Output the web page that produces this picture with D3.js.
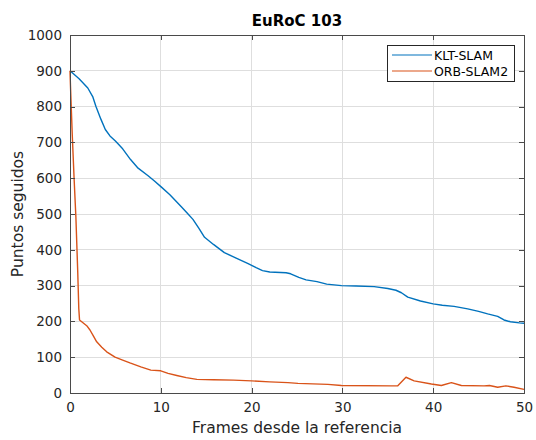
<!DOCTYPE html>
<html>
<head>
<meta charset="utf-8">
<script src="https://cdn.jsdelivr.net/npm/d3@7"></script>
<style>
  html, body { margin: 0; padding: 0; background: #fff; }
  svg { display: block; font-family: "DejaVu Sans", sans-serif; }
</style>
</head>
<body>
<svg id="chart" width="536" height="440"></svg>
<script>
// Tracked points per frame since the reference keyframe (EuRoC 103)
const seriesNames = ["KLT-SLAM", "ORB-SLAM2"];
const seriesColors = ["#0072BD", "#D95319"];

const kltFrames = [0, 1, 1.96, 2.5, 2.85, 3.4, 3.89, 4.4, 5, 5.8, 6.67, 7.5, 8.6, 9.3, 10.07, 11, 12.26, 13, 13.54, 14.2, 14.82, 15.8, 17, 18.3, 19.56, 20.5, 21.2, 22, 23.8, 24.3, 25.2, 26, 27.2, 28.27, 29.9, 31.5, 33.5, 35, 35.9, 36.5, 37.2, 38.6, 40, 41, 42.3, 43.8, 45, 46, 47.1, 47.8, 48.5, 49.5, 50];
const kltPoints = [900, 878, 852, 828, 801, 765, 736, 718, 704, 682, 652, 628, 607, 592, 575, 554, 520, 500, 485, 460, 435, 415, 392, 377, 362, 350, 342, 338, 336, 333, 323, 316, 311, 304, 300, 299, 297, 292, 287, 280, 268, 257, 249, 245, 242, 235, 228, 221, 214, 204, 199, 196, 195];

const orbFrames = [0, 0.05, 0.25, 0.45, 0.65, 0.85, 0.97, 1.05, 1.84, 2.2, 2.6, 2.94, 3.5, 4.04, 4.96, 5.8, 6.6, 7.8, 8.9, 10, 10.8, 11.76, 12.8, 13.97, 15.8, 18, 20, 22, 24, 25.1, 28.4, 29.9, 35.4, 36.1, 37, 37.9, 39.8, 40.9, 42, 43.1, 45.6, 46.2, 47.1, 48, 48.9, 50];
const orbPoints = [900, 860, 720, 600, 490, 340, 235, 204, 188, 176, 158, 143, 128, 115, 100, 92, 84, 73, 64, 62, 55, 49, 43, 38, 37, 36, 34, 31, 29, 27, 24, 21, 20, 20, 44, 34, 25, 21, 29, 21, 20, 21, 16, 20, 16, 10];

const xTicks = [0, 10, 20, 30, 40, 50];
const yTicks = [0, 100, 200, 300, 400, 500, 600, 700, 800, 900, 1000];

const titleText = "EuRoC 103";
const xLabel = "Frames desde la referencia";
const yLabel = "Puntos seguidos";

const svg = d3.select("#chart");
const plotL = 70, plotR = 524, plotT = 35, plotB = 393;

const x = d3.scaleLinear().domain([0, 50]).range([plotL, plotR]);
const y = d3.scaleLinear().domain([0, 1000]).range([plotB, plotT]);

// grid
const grid = svg.append("g");
grid.selectAll("line.vx").data(xTicks.slice(1, -1)).join("line")
  .attr("x1", d => x(d)).attr("x2", d => x(d))
  .attr("y1", plotT).attr("y2", plotB)
  .attr("stroke", "#dedede").attr("stroke-width", 1).attr("shape-rendering", "crispEdges");
grid.selectAll("line.hy").data(yTicks.slice(1, -1)).join("line")
  .attr("x1", plotL).attr("x2", plotR)
  .attr("y1", d => y(d)).attr("y2", d => y(d))
  .attr("stroke", "#dedede").attr("stroke-width", 1).attr("shape-rendering", "crispEdges");

// series lines
const series = [
  { name: seriesNames[0], color: seriesColors[0], xs: kltFrames, ys: kltPoints },
  { name: seriesNames[1], color: seriesColors[1], xs: orbFrames, ys: orbPoints }
];
const line = d3.line().x(d => x(d[0])).y(d => y(d[1]));
svg.append("g").selectAll("path").data(series).join("path")
  .attr("d", s => line(s.xs.map((f, i) => [f, s.ys[i]])))
  .attr("fill", "none")
  .attr("stroke", s => s.color)
  .attr("stroke-width", 1.4)
  .attr("stroke-linejoin", "round");

// axes with inward ticks on all four sides
const axisColor = "#4a4a4a";
const tickLen = 5;
const fmt = d3.format("d");
function styleAxis(g) {
  g.select(".domain").remove();
  g.selectAll(".tick line").attr("stroke", axisColor).attr("shape-rendering", "crispEdges");
  g.selectAll(".tick text").attr("fill", "#262626").style("font-size", "13.5px")
    .style("font-family", "'DejaVu Sans', sans-serif");
}
svg.append("g").attr("transform", `translate(0,${plotB})`)
  .call(d3.axisBottom(x).tickValues(xTicks).tickFormat(fmt).tickSizeInner(-tickLen).tickSizeOuter(0).tickPadding(9))
  .call(styleAxis);
svg.append("g").attr("transform", `translate(${plotL},0)`)
  .call(d3.axisLeft(y).tickValues(yTicks).tickFormat(fmt).tickSizeInner(-tickLen).tickSizeOuter(0).tickPadding(8))
  .call(styleAxis);
svg.append("g").attr("transform", `translate(0,${plotT})`)
  .call(d3.axisTop(x).tickValues(xTicks).tickSizeInner(-tickLen).tickSizeOuter(0).tickFormat(""))
  .call(styleAxis);
svg.append("g").attr("transform", `translate(${plotR},0)`)
  .call(d3.axisRight(y).tickValues(yTicks).tickSizeInner(-tickLen).tickSizeOuter(0).tickFormat(""))
  .call(styleAxis);

svg.append("rect")
  .attr("x", plotL + 0.5).attr("y", plotT + 0.5)
  .attr("width", plotR - plotL).attr("height", plotB - plotT)
  .attr("fill", "none").attr("stroke", axisColor).attr("stroke-width", 1);

// title and axis labels
svg.append("text").attr("x", (plotL + plotR) / 2).attr("y", 26)
  .attr("text-anchor", "middle").style("font-size", "15px").style("font-weight", "bold")
  .attr("fill", "#000").text(titleText);
svg.append("text").attr("x", (plotL + plotR) / 2).attr("y", 433)
  .attr("text-anchor", "middle").style("font-size", "15.5px").attr("fill", "#262626").text(xLabel);
svg.append("text").attr("transform", `translate(23,${(plotT + plotB) / 2}) rotate(-90)`)
  .attr("text-anchor", "middle").style("font-size", "15.5px").attr("fill", "#262626").text(yLabel);

// legend
const lgX = 387, lgY = 45, lgW = 127, lgH = 36;
const lg = svg.append("g");
lg.append("rect").attr("x", lgX + 0.5).attr("y", lgY + 0.5).attr("width", lgW).attr("height", lgH)
  .attr("fill", "#fff").attr("stroke", "#262626").attr("stroke-width", 1);
series.forEach((s, i) => {
  const cy = lgY + 10 + i * 16;
  lg.append("line").attr("x1", lgX + 5).attr("x2", lgX + 45).attr("y1", cy).attr("y2", cy)
    .attr("stroke", s.color).attr("stroke-width", 1.2);
  lg.append("text").attr("x", lgX + 47).attr("y", cy).attr("dy", "0.36em")
    .style("font-size", "12.5px").attr("fill", "#000").text(s.name);
});
</script>
</body>
</html>
